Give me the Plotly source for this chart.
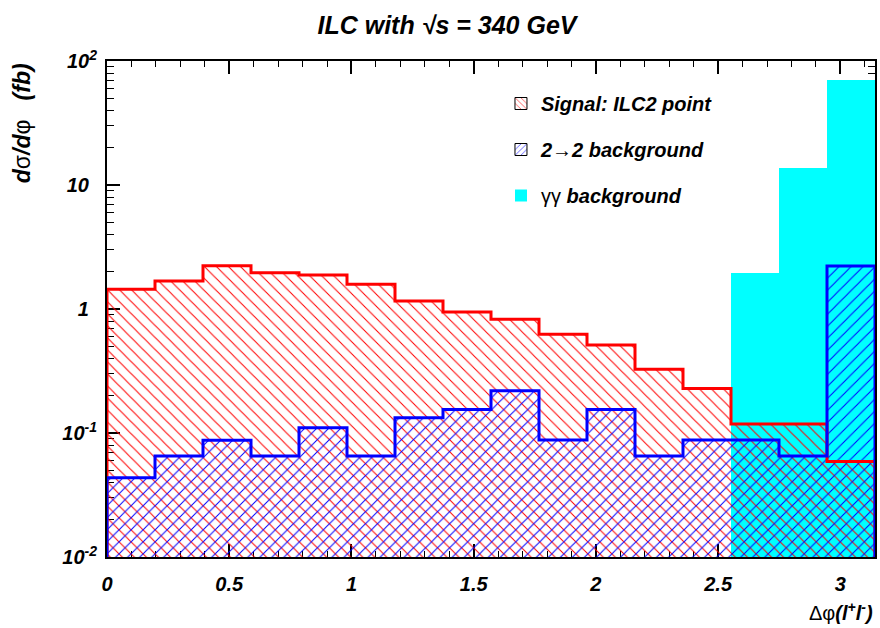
import numpy as np
import plotly.graph_objects as go

# ---- data ----
n_bins = 16
x_min, x_max = 0.0, np.pi
signal = [1.44, 1.68, 2.23, 1.96, 1.88, 1.58, 1.16, 0.946, 0.826, 0.625, 0.513, 0.326, 0.228, 0.118, 0.118, 0.059]
bkg22 = [0.0436, 0.0653, 0.0873, 0.0653, 0.110, 0.0653, 0.133, 0.155, 0.219, 0.088, 0.155, 0.0653, 0.088, 0.088, 0.0653, 2.22]
bkg_gg = [None, None, None, None, None, None, None, None, None, None, None, None, None, 1.95, 13.7, 70.3]

x_tick_vals = [0, 0.5, 1, 1.5, 2, 2.5, 3]
x_tick_text = ["0", "0.5", "1", "1.5", "2", "2.5", "3"]
y_tick_vals = [1e-2, 1e-1, 1, 10, 100]
y_tick_text = ["10<sup>-2</sup>", "10<sup>-1</sup>", "1&#8201;&#8201;", "10&#8201;&#8201;", "10<sup>2</sup>"]

title_text = "ILC with √s = 340 GeV"
legend_names = ["<b><i>Signal: ILC2 point</i></b>", "<b><i>2</i></b>→<b><i>2 background</i></b>",
                "γγ <b><i>background</i></b>"]

# ---- derived ----
edges = np.linspace(x_min, x_max, n_bins + 1)
centers = 0.5 * (edges[:-1] + edges[1:])
width = edges[1] - edges[0]
y_floor = 1e-2

FONT = "Liberation Sans"
RED, BLUE, CYAN = "#ff0000", "#0000ff", "#00ffff"
BI = dict(family=FONT, weight="bold", style="italic", color="black")


def step_xy(vals):
    xs = [edges[0]] + list(edges) + [edges[-1]]
    ys = [y_floor] + list(vals) + [vals[-1], y_floor]
    return xs, ys


fig = go.Figure()

# gamma-gamma background (solid cyan)
fig.add_trace(go.Bar(x=centers, y=bkg_gg, width=width, marker=dict(color=CYAN, line=dict(width=0)),
                     showlegend=False))
# signal hatch
fig.add_trace(go.Bar(x=centers, y=signal, width=width,
                     marker=dict(color=RED, line=dict(width=0),
                                 pattern=dict(shape="\\", size=8.5, solidity=0.12, fillmode="replace")),
                     showlegend=False))
# 2->2 hatch
fig.add_trace(go.Bar(x=centers, y=bkg22, width=width,
                     marker=dict(color=BLUE, line=dict(width=0),
                                 pattern=dict(shape="/", size=8.5, solidity=0.12, fillmode="replace")),
                     showlegend=False))

# outlines
sx, sy = step_xy(signal)
fig.add_trace(go.Scatter(x=sx, y=sy, mode="lines", line=dict(color=RED, width=3, shape="hv"), showlegend=False))
bx, by = step_xy(bkg22)
fig.add_trace(go.Scatter(x=bx, y=by, mode="lines", line=dict(color=BLUE, width=3, shape="hv"), showlegend=False))

# legend entries
fig.add_trace(go.Bar(x=[None], y=[None], name=legend_names[0], legendgroup="a",
                     marker=dict(color=RED, line=dict(color="black", width=1),
                                 pattern=dict(shape="\\", size=5, solidity=0.15, fillmode="replace"))))
fig.add_trace(go.Bar(x=[None], y=[None], name=legend_names[1], legendgroup="b",
                     marker=dict(color=BLUE, line=dict(color="black", width=1),
                                 pattern=dict(shape="/", size=5, solidity=0.15, fillmode="replace"))))
fig.add_trace(go.Bar(x=[None], y=[None], name=legend_names[2], legendgroup="c",
                     marker=dict(color=CYAN, line=dict(width=0))))

minor_y = [m * 10.0 ** e for e in range(-2, 2) for m in range(2, 10)]

fig.update_layout(
    width=880, height=628,
    margin=dict(l=107, r=3, t=61, b=71),
    paper_bgcolor="white", plot_bgcolor="white",
    barmode="overlay",
    font=dict(family=FONT, color="black"),
    title=dict(text=title_text, x=447 / 880, xref="container", xanchor="center",
               y=1 - 25 / 628, yref="container", yanchor="middle",
               font=dict(BI, size=25)),
    legend=dict(x=(502 - 107) / 770, xanchor="left", y=1 - 23 / 496, yanchor="top",
                bgcolor="rgba(0,0,0,0)", borderwidth=0, traceorder="grouped", tracegroupgap=17,
                font=dict(family=FONT, size=20, color="black")),
    xaxis=dict(range=[x_min, x_max], tickmode="array", tickvals=x_tick_vals, ticktext=x_tick_text,
               ticks="inside", ticklen=13, tickwidth=1.5, tickcolor="black",
               showline=True, linecolor="black", linewidth=2, mirror="ticks",
               showgrid=False, zeroline=False, layer="below traces",
               ticklabelstandoff=8,
               tickfont=dict(BI, size=20),
               minor=dict(tickmode="linear", tick0=0, dtick=0.1, ticks="inside", ticklen=6,
                          tickwidth=1, tickcolor="black", showgrid=False)),
    yaxis=dict(type="log", range=[-2, 2], tickmode="array", tickvals=y_tick_vals, ticktext=y_tick_text,
               ticks="inside", ticklen=13, tickwidth=1.5, tickcolor="black",
               showline=True, linecolor="black", linewidth=2, mirror="ticks",
               showgrid=False, zeroline=False, layer="below traces",
               ticklabelstandoff=4,
               tickfont=dict(BI, size=20),
               minor=dict(tickmode="array", tickvals=minor_y, ticks="inside", ticklen=7,
                          tickwidth=1, tickcolor="black", showgrid=False)),
)

# axis titles
fig.add_annotation(text="<b><i>d</i></b>σ<b><i>/d</i></b>φ&nbsp;&nbsp;&nbsp;<b><i>(fb)</i></b>",
                   xref="paper", yref="paper", x=-85 / 770, y=1.0, xanchor="center", yanchor="top",
                   textangle=-90, showarrow=False,
                   font=dict(family=FONT, size=23, color="black"))
fig.add_annotation(text="Δφ<b><i>(l<sup>+</sup>l<sup>-</sup>)</i></b>",
                   xref="paper", yref="paper", x=1.0, y=-54 / 496, xanchor="right", yanchor="middle",
                   showarrow=False,
                   font=dict(family=FONT, size=20, color="black"))

fig.write_html("out.html", config={"displayModeBar": False},
               post_script="document.body.style.margin='0';document.body.style.overflow='hidden';")
